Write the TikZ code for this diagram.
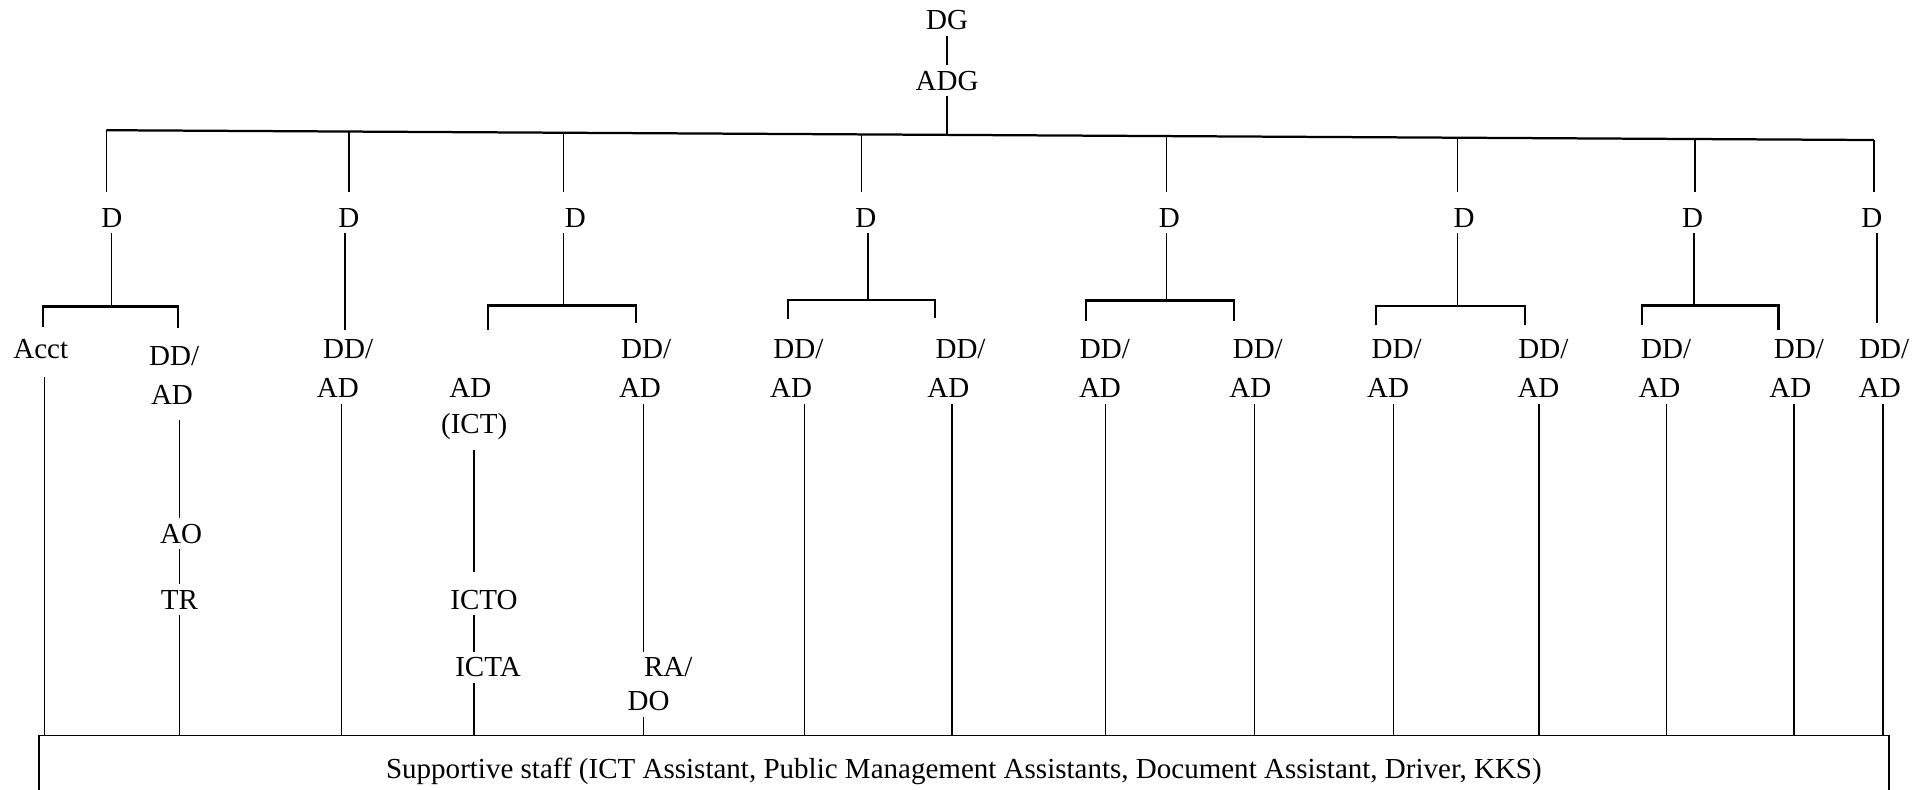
\documentclass[tikz,border=0pt]{standalone}
\usepackage{fontspec}
\setmainfont{Liberation Serif}

\begin{document}
\begin{tikzpicture}[x=0.025cm,y=-0.025cm,
  post/.style={font=\fontsize{16.8}{20}\selectfont,anchor=base,inner xsep=0pt,inner ysep=3.3pt,text height=11pt,text depth=0pt},
  link/.style={draw,line width=0.8pt},
  bar/.style={draw,line width=1.3pt}]
  \useasboundingbox (0,0) rectangle (1568,643);

  %top
  \node[post] (dg) at (771,24.4) {DG};
  \node[post] (adg) at (771,73.5) {ADG};
  \draw[link] (dg) -- (adg);

  %main bar
  \coordinate (b0) at (771,109.8);
  \coordinate (b1) at (86.5,106);
  \coordinate (b2) at (284,107.1);
  \coordinate (b3) at (459,108.1);
  \coordinate (b4) at (701.5,109.4);
  \coordinate (b5) at (949.5,110.8);
  \coordinate (b6) at (1186.5,112.1);
  \coordinate (b7) at (1380,113.2);
  \coordinate (b8) at (1525.5,114);
  \draw[link] (adg) -- (b0);
  \draw[bar] (b1) -- (b8);

  %directors
  \node[post] (d1) at (91,185) {D};
  \node[post] (d2) at (284,185) {D};
  \node[post] (d3) at (468.5,185) {D};
  \node[post] (d4) at (705,185) {D};
  \node[post] (d5) at (952,185) {D};
  \node[post] (d6) at (1192,185) {D};
  \node[post] (d7) at (1378,185) {D};
  \node[post] (d8) at (1524,185) {D};
  \draw[link,shorten >=0.2cm] (b1) -- (b1 |- d1.north);
  \draw[link,shorten >=0.2cm] (b2) -- (b2 |- d2.north);
  \draw[link,shorten >=0.2cm] (b3) -- (b3 |- d3.north);
  \draw[link,shorten >=0.2cm] (b4) -- (b4 |- d4.north);
  \draw[link,shorten >=0.2cm] (b5) -- (b5 |- d5.north);
  \draw[link,shorten >=0.2cm] (b6) -- (b6 |- d6.north);
  \draw[link,shorten >=0.2cm] (b7) -- (b7 |- d7.north);
  \draw[link,shorten >=0.2cm] (b8) -- (b8 |- d8.north);

  %brackets under the directors
  \coordinate (j1) at (91,249.5);
  \coordinate (j1l) at (35.3,266);
  \coordinate (j1r) at (145.2,267);
  \coordinate (j2) at (281,268.7);
  \coordinate (j3) at (459,248.8);
  \coordinate (j3l) at (397.5,268.7);
  \coordinate (j3r) at (517.5,263.2);
  \coordinate (j4) at (706.5,244);
  \coordinate (j4l) at (641.5,260);
  \coordinate (j4r) at (761.5,259.2);
  \coordinate (j5) at (949.5,244.6);
  \coordinate (j5l) at (884,261);
  \coordinate (j5r) at (1004.5,261);
  \coordinate (j6) at (1186.5,249.1);
  \coordinate (j6l) at (1120.5,264.6);
  \coordinate (j6r) at (1241.5,264.6);
  \coordinate (j7) at (1379,248.7);
  \coordinate (j7l) at (1336.5,264.6);
  \coordinate (j7r) at (1448,268.7);
  \coordinate (j8) at (1528,263);
  \draw[link] (j1 |- d1.south) -- (j1);
  \draw[link] (j2 |- d2.south) -- (j2);
  \draw[link] (j3 |- d3.south) -- (j3);
  \draw[link] (j4 |- d4.south) -- (j4);
  \draw[link] (j5 |- d5.south) -- (j5);
  \draw[link] (j6 |- d6.south) -- (j6);
  \draw[link] (j7 |- d7.south) -- (j7);
  \draw[link] (j8 |- d8.south) -- (j8);
  \draw[bar] (j1l) |- (j1) -| (j1r);
  \draw[bar] (j3l) |- (j3) -| (j3r);
  \draw[bar] (j4l) |- (j4) -| (j4r);
  \draw[bar] (j5l) |- (j5) -| (j5r);
  \draw[bar] (j6l) |- (j6) -| (j6r);
  \draw[bar] (j7l) |- (j7) -| (j7r);

  %deputies
  \node[post] (acct) at (33.2,291.5) {Acct};
  \node[post] (dd1) at (141.8,297.8) {DD/};
  \node[post] (ad1) at (140,329.7) {AD};
  \node[post] (ao1) at (147.5,442.4) {AO};
  \node[post] (tr1) at (146,496) {TR};
  \node[post] (dd2) at (283.4,292) {DD/};
  \node[post] (ad2) at (275,324) {AD};
  \node[post] (ad3) at (383,324) {AD};
  \node[post] (ict3) at (386,353) {(ICT)};
  \node[post] (icto3) at (394,496) {ICTO};
  \node[post] (icta3) at (397.3,551) {ICTA};
  \node[post] (dd4) at (526,292) {DD/};
  \node[post] (ad4) at (521,324) {AD};
  \node[post] (ra4) at (544,551) {RA/};
  \node[post] (do4) at (528,578.6) {DO};
  \node[post] (dd5) at (650,292) {DD/};
  \node[post] (ad5) at (644,324) {AD};
  \node[post] (dd6) at (782,292) {DD/};
  \node[post] (ad6) at (772,324) {AD};
  \node[post] (dd7) at (899.5,292) {DD/};
  \node[post] (ad7) at (895.5,324) {AD};
  \node[post] (dd8) at (1024,292) {DD/};
  \node[post] (ad8) at (1018,324) {AD};
  \node[post] (dd9) at (1137,292) {DD/};
  \node[post] (ad9) at (1130,324) {AD};
  \node[post] (dd10) at (1256.5,292) {DD/};
  \node[post] (ad10) at (1252.5,324) {AD};
  \node[post] (dd11) at (1356.5,292) {DD/};
  \node[post] (ad11) at (1351,324) {AD};
  \node[post] (dd12) at (1464.5,292) {DD/};
  \node[post] (ad12) at (1457.5,324) {AD};
  \node[post] (dd13) at (1534,292) {DD/};
  \node[post] (ad13) at (1530.5,324) {AD};

  %staff
  \node[draw,line width=1pt,anchor=north,minimum width=37.64cm,minimum height=1.48cm,font=\fontsize{16.8}{20}\selectfont] (staff) at (784.75,598) {Supportive staff (ICT Assistant, Public Management Assistants, Document Assistant, Driver, KKS)};
  \coordinate (c1) at (36,598);
  \coordinate (c2) at (146,598);
  \coordinate (c3) at (278,598);
  \coordinate (c4) at (386,598);
  \coordinate (c5) at (524,598);
  \coordinate (c6) at (655,598);
  \coordinate (c7) at (775,598);
  \coordinate (c8) at (900,598);
  \coordinate (c9) at (1021.5,598);
  \coordinate (c10) at (1134.3,598);
  \coordinate (c11) at (1253,598);
  \coordinate (c12) at (1356.5,598);
  \coordinate (c13) at (1460.5,598);
  \coordinate (c14) at (1533,598);
  \draw[link,shorten <=0.27cm] (c1 |- acct.south) -- (c1);
  \draw[link,shorten <=0.19cm] (c2 |- ad1.south) -- (c2 |- ao1.north);
  \draw[link] (c2 |- ao1.south) -- (c2 |- tr1.north);
  \draw[link] (c2 |- tr1.south) -- (c2);
  \draw[link] (c3 |- ad2.south) -- (c3);
  \draw[link,shorten <=0.22cm,shorten >=0.25cm] (c4 |- ict3.south) -- (c4 |- icto3.north);
  \draw[link] (c4 |- icto3.south) -- (c4 |- icta3.north);
  \draw[link] (c4 |- icta3.south) -- (c4);
  \draw[link] (c5 |- ad4.south) -- (c5 |- ra4.north);
  \draw[link] (c5 |- do4.south) -- (c5);
  \draw[link] (c6 |- ad5.south) -- (c6);
  \draw[link] (c7 |- ad6.south) -- (c7);
  \draw[link] (c8 |- ad7.south) -- (c8);
  \draw[link] (c9 |- ad8.south) -- (c9);
  \draw[link] (c10 |- ad9.south) -- (c10);
  \draw[link] (c11 |- ad10.south) -- (c11);
  \draw[link] (c12 |- ad11.south) -- (c12);
  \draw[link] (c13 |- ad12.south) -- (c13);
  \draw[link] (c14 |- ad13.south) -- (c14);
\end{tikzpicture}
\end{document}
